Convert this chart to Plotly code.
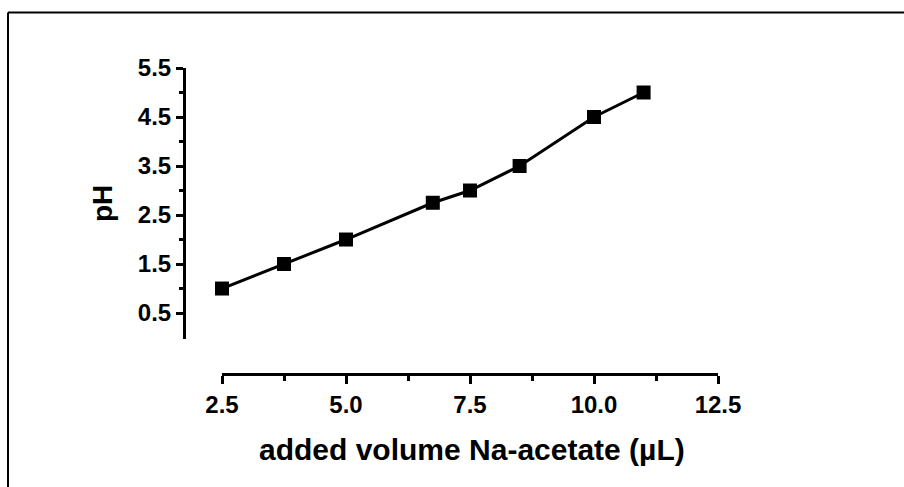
import plotly.graph_objects as go

# Data
volume_uL = [2.5, 3.75, 5.0, 6.75, 7.5, 8.5, 10.0, 11.0]
ph_values = [1.0, 1.5, 2.0, 2.75, 3.0, 3.5, 4.5, 5.0]

x_tickvals = [2.5, 5.0, 7.5, 10.0, 12.5]
x_minor_tickvals = [3.75, 6.25, 8.75, 11.25]
y_tickvals = [0.5, 1.5, 2.5, 3.5, 4.5, 5.5]
y_minor_tickvals = [1.0, 2.0, 3.0, 4.0, 5.0]

x_title = "added volume Na-acetate (µL)"
y_title = "pH"

W, H = 904, 487
FONT = "Liberation Sans, Arial, sans-serif"

fig = go.Figure()
fig.add_trace(go.Scatter(
    x=volume_uL, y=ph_values, mode="lines+markers",
    line=dict(color="black", width=3),
    marker=dict(symbol="square", size=14, color="black"),
    cliponaxis=False, showlegend=False,
))

fig.update_layout(
    template="none",
    width=W, height=H,
    margin=dict(l=0, r=0, t=0, b=0, pad=0, autoexpand=False),
    paper_bgcolor="white", plot_bgcolor="white",
    font=dict(family=FONT, color="black"),
    xaxis=dict(
        domain=[222 / W, 718 / W], range=[2.5, 12.5],
        anchor="free", position=1 - 374 / H, automargin=False,
        showline=True, linecolor="black", linewidth=3,
        showgrid=False, zeroline=False,
        tickmode="array", tickvals=x_tickvals,
        ticktext=[f"{v:.1f}" for v in x_tickvals],
        ticks="outside", ticklen=8, tickwidth=3, tickcolor="black",
        tickfont=dict(family=FONT, size=24, weight="bold"),
        minor=dict(tickmode="array", tickvals=x_minor_tickvals, ticks="outside",
                   ticklen=5, tickwidth=3, tickcolor="black", showgrid=False),
    ),
    yaxis=dict(
        domain=[1 - 339 / H, 1 - 68 / H], range=[-0.03, 5.5],
        anchor="free", position=184 / W, automargin=False,
        showline=True, linecolor="black", linewidth=3,
        showgrid=False, zeroline=False,
        tickmode="array", tickvals=y_tickvals,
        ticktext=[f"{v:.1f}" for v in y_tickvals],
        ticks="outside", ticklen=7, tickwidth=3, tickcolor="black",
        tickfont=dict(family=FONT, size=24, weight="bold"),
        minor=dict(tickmode="array", tickvals=y_minor_tickvals, ticks="outside",
                   ticklen=4, tickwidth=3, tickcolor="black", showgrid=False),
    ),
    annotations=[
        dict(text=y_title, x=102.5 / W, y=1 - 203.5 / H, xref="paper", yref="paper",
             textangle=-90, showarrow=False, xanchor="center", yanchor="middle",
             font=dict(family=FONT, size=28, weight="bold")),
        dict(text=x_title, x=472 / W, y=1 - 449 / H, xref="paper", yref="paper",
             showarrow=False, xanchor="center", yanchor="middle",
             font=dict(family=FONT, size=30, weight="bold")),
    ],
    shapes=[
        dict(type="line", xref="paper", yref="paper", x0=8 / W, x1=1.0,
             y0=1 - 12.5 / H, y1=1 - 12.5 / H, line=dict(color="black", width=2)),
        dict(type="line", xref="paper", yref="paper", x0=8 / W, x1=8 / W,
             y0=1 - 12.5 / H, y1=0, line=dict(color="black", width=2)),
    ],
)

fig.write_html("out.html")
